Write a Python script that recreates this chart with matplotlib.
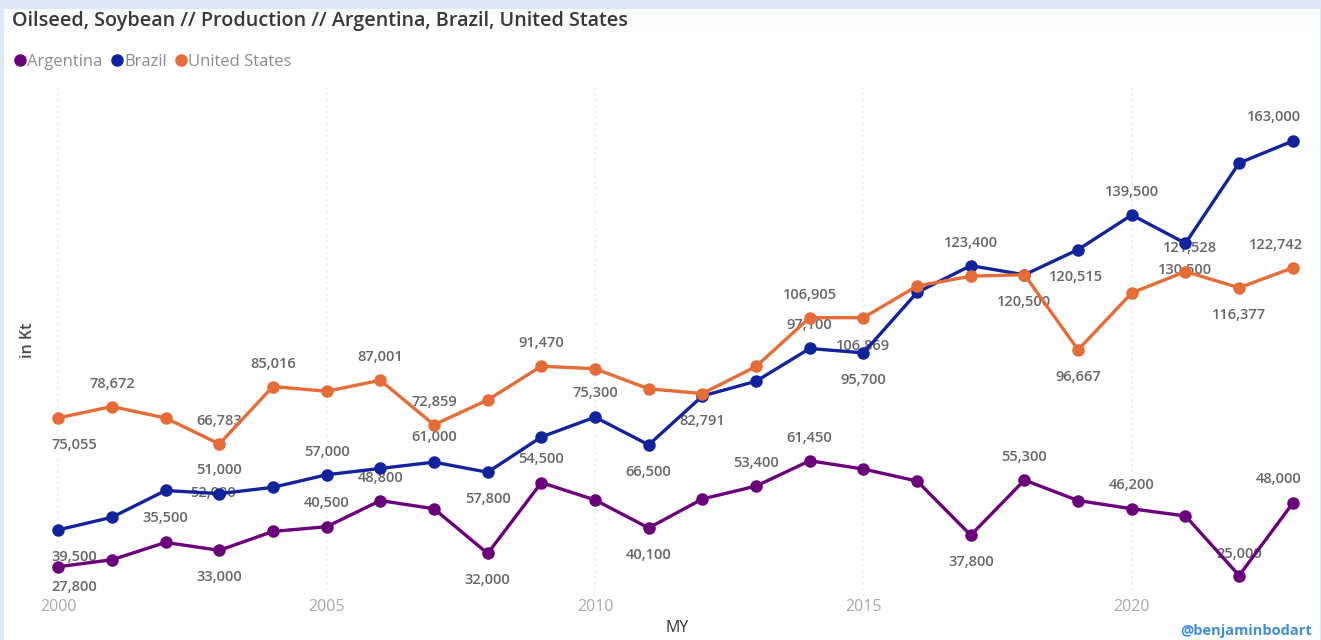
import matplotlib.pyplot as plt
from matplotlib.patches import Rectangle
from matplotlib.lines import Line2D

years = list(range(2000, 2024))

argentina = [27800, 30000, 35500, 33000, 39000, 40500, 48800, 46200, 32000, 54500,
             49000, 40100, 49300, 53400, 61450, 58800, 55000, 37800, 55300, 48800,
             46200, 43900, 25000, 48000]
brazil = [39500, 43500, 52000, 51000, 53000, 57000, 59000, 61000, 57800, 69000,
          75300, 66500, 82000, 86700, 97100, 95700, 114900, 123400, 120500, 128500,
          139500, 130500, 156000, 163000]
united_states = [75055, 78672, 75010, 66783, 85016, 83507, 87001, 72859, 80749, 91470,
                 90663, 84291, 82791, 91389, 106905, 106869, 116920, 120065, 120515, 96667,
                 114749, 121528, 116377, 122742]

# which points get a value label, and where it sits (pixel offset from the point, + is down)
labels_argentina = {2000: (16, 20), 2002: (0, -24), 2003: (0, 27), 2005: (0, -24),
                    2006: (0, -23), 2008: (0, 27), 2009: (0, -24), 2011: (0, 27),
                    2013: (0, -23), 2014: (0, -23), 2017: (0, 27), 2018: (0, -23),
                    2020: (0, -24), 2022: (0, -22), 2023: (-14, -24)}
labels_brazil = {2000: (16, 27), 2002: (47, 3), 2003: (0, -24), 2005: (0, -23),
                 2007: (0, -25), 2008: (0, 27), 2010: (0, -24), 2011: (0, 27),
                 2014: (0, -23), 2015: (0, 27), 2017: (0, -23), 2018: (0, 27),
                 2020: (0, -23), 2021: (0, 27), 2023: (-19, -24)}
labels_us = {2000: (16, 27), 2001: (0, -23), 2003: (0, -23), 2004: (0, -23),
             2006: (0, -23), 2007: (0, -23), 2009: (0, -23), 2012: (0, 27),
             2014: (0, -23), 2015: (0, 28), 2018: (52, 2), 2019: (0, 27),
             2021: (5, -24), 2022: (0, 27), 2023: (-17, -23)}

series = [
    ("Argentina", argentina, "#6B007B", labels_argentina),
    ("Brazil", brazil, "#12239E", labels_brazil),
    ("United States", united_states, "#E66C37", labels_us),
]

W, H = 1321, 640
plt.rcParams['font.family'] = ['Open Sans', 'DejaVu Sans']

fig = plt.figure(figsize=(W / 100, H / 100), dpi=100)
fig.patch.set_facecolor('#dde8f6')

# white report panel with a faint title band
fig.add_artist(Rectangle((4 / W, 0), 1316 / W, 631 / H, transform=fig.transFigure,
                         facecolor='white', edgecolor='none', zorder=-10))
fig.add_artist(Rectangle((4 / W, 608 / H), 1316 / W, 23 / H, transform=fig.transFigure,
                         facecolor='#fafbfd', edgecolor='none', zorder=-9))

ax = fig.add_axes([40 / W, 1 - 596 / H, 1270 / W, 511 / H])
ax.set_facecolor('none')

for name, values, color, labels in series:
    ax.plot(years, values, color=color, linewidth=2.4, marker='o', markersize=8,
            label=name, clip_on=False, zorder=3)
    for year, (dx, dy) in labels.items():
        v = values[years.index(year)]
        ax.annotate(f"{v:,}", (year, v), xytext=(dx, -dy), textcoords='offset pixels',
                    ha='center', va='center', fontsize=10.5, fontweight='semibold',
                    color='#666666', zorder=2)

ax.set_xlim(1999.66, 2023.32)
ax.set_ylim(18495, 180769)
ax.set_xticks([2000, 2005, 2010, 2015, 2020])
ax.set_yticks([])
ax.tick_params(axis='x', length=0, pad=2, labelsize=11.5, labelcolor='#a8a8a8')
ax.grid(axis='x', color='#f0f0f0', linestyle=':', linewidth=1.6)
ax.set_axisbelow(True)
for s in ax.spines.values():
    s.set_visible(False)

fig.text(12 / W, 1 - 21 / H, "Oilseed, Soybean // Production // Argentina, Brazil, United States",
         fontsize=14.2, fontweight='semibold', color='#383838', ha='left', va='center')

handles = [Line2D([], [], marker='o', linestyle='', color=c, markersize=8)
           for _, _, c, _ in series]
fig.legend(handles, [n for n, _, _, _ in series], loc='center left',
           bbox_to_anchor=(12 / W, 1 - 62 / H), ncol=3, frameon=False,
           handletextpad=0.0, columnspacing=0.4, handlelength=0.9,
           fontsize=12, labelcolor='#8c8c8c', borderpad=0, borderaxespad=0)

fig.text(28 / W, 1 - 340 / H, "in Kt", rotation=90, ha='center', va='center',
         fontsize=11.5, fontweight='semibold', color='#4a4a4a')
fig.text(677 / W, 1 - 628 / H, "MY", ha='center', va='center', fontsize=11.5,
         color='#333333')
fig.text(1312 / W, 1 - 631 / H, "@benjaminbodart", ha='right', va='center',
         fontsize=10.5, fontweight='bold', color='#3f8ede')

fig.savefig('out.png', dpi=100, facecolor=fig.get_facecolor())
